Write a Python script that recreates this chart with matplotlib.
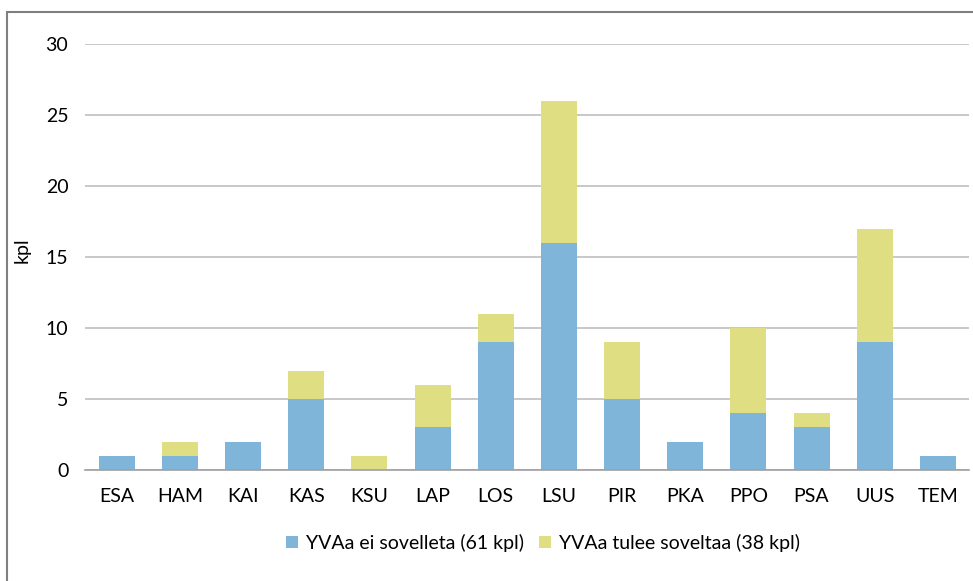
import matplotlib.pyplot as plt
import numpy as np
from matplotlib.patches import Rectangle

plt.rcParams['font.family'] = ['Lato', 'DejaVu Sans']

categories = ["ESA", "HAM", "KAI", "KAS", "KSU", "LAP", "LOS", "LSU", "PIR", "PKA", "PPO", "PSA", "UUS", "TEM"]
ei_sovelleta = [1, 1, 2, 5, 0, 3, 9, 16, 5, 2, 4, 3, 9, 1]
tulee_soveltaa = [0, 1, 0, 2, 1, 3, 2, 10, 4, 0, 6, 1, 8, 0]
labels = ["YVAa ei sovelleta (61 kpl)", "YVAa tulee soveltaa (38 kpl)"]

blue = "#7fb5d9"
yellow = "#e0de82"

fig = plt.figure(figsize=(9.73, 5.81), dpi=100)
ax = fig.add_axes([0.0874, 0.191, 0.909, 0.733])

x = np.arange(len(categories))
ax.bar(x, ei_sovelleta, width=0.57, color=blue, label=labels[0], zorder=3)
ax.bar(x, tulee_soveltaa, width=0.57, bottom=ei_sovelleta, color=yellow, label=labels[1], zorder=3)

ax.set_xlim(-0.5, len(categories) - 0.5)
ax.set_ylim(0, 30)
ax.set_yticks(range(0, 31, 5))
ax.set_xticks(x)
ax.set_xticklabels(categories, fontsize=14)
ax.tick_params(axis='y', labelsize=14, length=0, pad=12)
ax.tick_params(axis='x', length=0, pad=13)
ax.yaxis.grid(True, color="#bfbfbf", linewidth=1.2, zorder=0)
for s in ["top", "right", "left"]:
    ax.spines[s].set_visible(False)
ax.spines["bottom"].set_color("#a0a0a0")
ax.spines["bottom"].set_linewidth(1.2)
ax.spines["bottom"].set_zorder(4)

fig.text(22 / 973, 1 - 250 / 581, "kpl", rotation=90, fontsize=14, ha="center", va="center")

fig.legend(loc="center", bbox_to_anchor=(0.558, 1 - 543 / 581), ncol=2, frameon=False,
           fontsize=14, handlelength=0.6, handleheight=0.6, handletextpad=0.4, columnspacing=0.8)

fig.add_artist(Rectangle((7 / 973, -0.05), 1.0, 1 - 12 / 581 + 0.05, transform=fig.transFigure,
                         fill=False, edgecolor="#7f7f7f", linewidth=1.5))

fig.savefig("out.png", dpi=100)
